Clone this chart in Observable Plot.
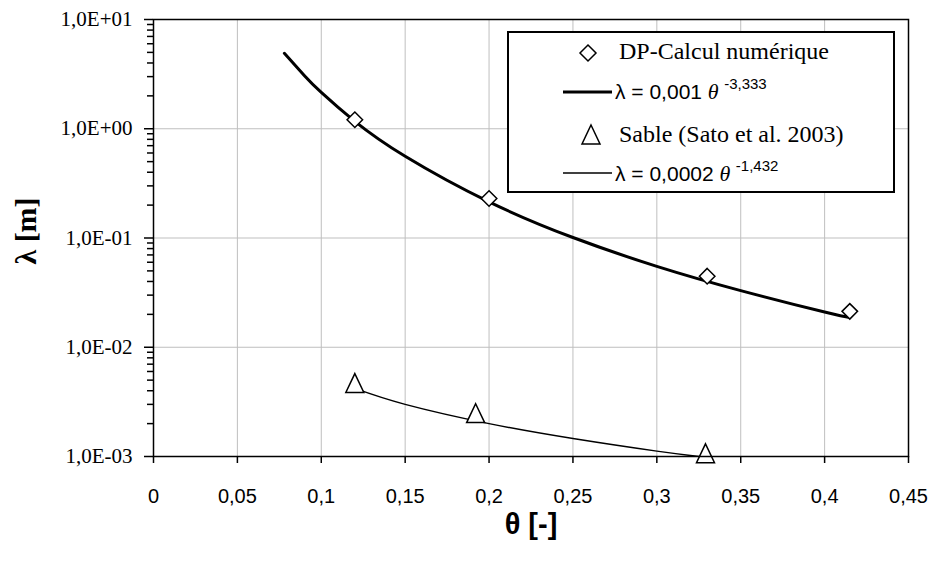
<!DOCTYPE html>
<html>
<head>
<meta charset="utf-8">
<script src="https://cdn.jsdelivr.net/npm/d3@7"></script>
<script src="https://cdn.jsdelivr.net/npm/@observablehq/plot@0.6"></script>
<style>
  html, body { margin: 0; padding: 0; background: #fff; }
  #wrap { position: relative; width: 928px; height: 561px; }
  #legend { position: absolute; left: 0; top: 0; pointer-events: none; }
</style>
</head>
<body>
<div id="wrap"></div>
<script>
// ---- Data ----
const thetaDP = [0.12, 0.2, 0.33, 0.415];
const lambdaDP = [1.21, 0.23, 0.0447, 0.0213];
const thetaSable = [0.12, 0.192, 0.329];
const lambdaSable = [0.00466, 0.00247, 0.00106];
// fitted power-law curves
const fitDPTheta = [0.078, 0.09, 0.1, 0.12, 0.15, 0.2, 0.25, 0.3, 0.35, 0.4, 0.415];
const fitDPLambda = [4.9, 3.06, 2.15, 1.17, 0.56, 0.214, 0.101, 0.055, 0.033, 0.021, 0.0187];
const fitSableTheta = [0.12, 0.15, 0.2, 0.25, 0.3, 0.33];
const fitSableLambda = [0.0042, 0.003, 0.002, 0.00146, 0.00112, 0.00098];
// axis ticks
const xTicks = [0, 0.05, 0.1, 0.15, 0.2, 0.25, 0.3, 0.35, 0.4, 0.45];
const yTicks = [0.001, 0.01, 0.1, 1, 10];
const yMinor = [2,3,4,5,6,7,8,9].flatMap(m => [0.001, 0.01, 0.1, 1].map(d => +(m * d).toPrecision(3)));
// legend texts
const legendLabels = ["DP-Calcul numérique", "Sable (Sato et al. 2003)"];
const fitLabels = [
  {pre: "λ = 0,001 ", exp: "-3,333"},
  {pre: "λ = 0,0002 ", exp: "-1,432"}
];

const dp = thetaDP.map((t, i) => ({theta: t, lambda: lambdaDP[i]}));
const sable = thetaSable.map((t, i) => ({theta: t, lambda: lambdaSable[i]}));
const fitDP = fitDPTheta.map((t, i) => ({theta: t, lambda: fitDPLambda[i]}));
const fitSable = fitSableTheta.map((t, i) => ({theta: t, lambda: fitSableLambda[i]}));

// tall triangle symbol (Excel-like marker)
const tri = {
  draw(ctx, size) {
    const r = Math.sqrt(size / Math.PI);
    ctx.moveTo(0, -1.1 * r);
    ctx.lineTo(r, 1.0 * r);
    ctx.lineTo(-r, 1.0 * r);
    ctx.closePath();
  }
};

const fmtY = d => {
  const e = Math.round(Math.log10(d));
  return "1,0E" + (e >= 0 ? "+" : "-") + String(Math.abs(e)).padStart(2, "0");
};
const fmtX = d => String(+d.toFixed(2)).replace(".", ",");

const chart = Plot.plot({
  width: 928,
  height: 561,
  marginLeft: 153,
  marginRight: 20,
  marginTop: 19,
  marginBottom: 105,
  style: {fontFamily: "'Liberation Serif', serif", background: "#fff", color: "#000"},
  x: {domain: [0, 0.45]},
  y: {type: "log", domain: [0.001, 10]},
  marks: [
    Plot.gridX(xTicks, {stroke: "#bfbfbf", strokeOpacity: 1, strokeWidth: 1}),
    Plot.gridY(yTicks, {stroke: "#bfbfbf", strokeOpacity: 1, strokeWidth: 1}),
    Plot.line(fitDP, {x: "theta", y: "lambda", curve: "natural", stroke: "#000", strokeWidth: 3}),
    Plot.line(fitSable, {x: "theta", y: "lambda", curve: "natural", stroke: "#000", strokeWidth: 1.5, clip: true}),
    Plot.dot(dp, {x: "theta", y: "lambda", symbol: "diamond2", r: 7, fill: "#fff", stroke: "#000", strokeWidth: 1.5}),
    Plot.dot(sable, {x: "theta", y: "lambda", symbol: tri, r: 9, fill: "#fff", stroke: "#000", strokeWidth: 1.5}),
    Plot.frame({stroke: "#000", strokeWidth: 1.5}),
    Plot.axisX(xTicks, {tickSize: 7, tickPadding: 25, tickFormat: fmtX, label: null,
      fontFamily: "'Liberation Sans', sans-serif", fontSize: 20, strokeWidth: 1.5}),
    Plot.axisY(yMinor, {tickSize: 6, tickFormat: () => "", label: null, stroke: "#000", strokeWidth: 1.5}),
    Plot.axisY(yTicks, {tickSize: 9, tickPadding: 12, tickFormat: fmtY, label: null,
      fontFamily: "'Liberation Serif', serif", fontSize: 21, stroke: "#000", strokeWidth: 1.5}),
    Plot.text(["θ [-]"], {frameAnchor: "bottom", dy: 68, lineAnchor: "middle", fontSize: 29, fontWeight: "bold",
      fontFamily: "'Liberation Sans', sans-serif", fill: "#000"}),
    Plot.text(["λ [m]"], {frameAnchor: "left", textAnchor: "middle", lineAnchor: "middle", dx: -127, dy: -7, rotate: -90,
      fontSize: 30, fontWeight: "bold", fontFamily: "'Liberation Serif', serif", fill: "#000"})
  ]
});

const wrap = document.getElementById("wrap");
wrap.appendChild(chart);

// ---- Legend (overlay) ----
const NS = "http://www.w3.org/2000/svg";
const lg = document.createElementNS(NS, "svg");
lg.setAttribute("id", "legend");
lg.setAttribute("width", 928);
lg.setAttribute("height", 561);
const box = {x: 508, y: 32, w: 386, h: 160};
const rowY = [53, 92, 135, 173];
function el(tag, attrs, parent) {
  const e = document.createElementNS(NS, tag);
  for (const k in attrs) e.setAttribute(k, attrs[k]);
  (parent || lg).appendChild(e);
  return e;
}
el("rect", {x: box.x, y: box.y, width: box.w, height: box.h, fill: "#fff", stroke: "#000", "stroke-width": 2});
// diamond marker
const dr = 8;
el("path", {d: `M588,${rowY[0]-dr}L${588+dr},${rowY[0]}L588,${rowY[0]+dr}L${588-dr},${rowY[0]}Z`,
  fill: "#fff", stroke: "#000", "stroke-width": 1.5});
// triangle marker
el("path", {d: `M591,${rowY[2]-10}L600,${rowY[2]+9}L582,${rowY[2]+9}Z`,
  fill: "#fff", stroke: "#000", "stroke-width": 1.5});
// lines
el("line", {x1: 563, x2: 612, y1: rowY[1], y2: rowY[1], stroke: "#000", "stroke-width": 3});
el("line", {x1: 563, x2: 612, y1: rowY[3], y2: rowY[3], stroke: "#000", "stroke-width": 1.5});
// series texts
[[legendLabels[0], rowY[0] + 6], [legendLabels[1], rowY[2] + 7]].forEach(([s, y]) => {
  const t = el("text", {x: 619, y: y, "font-family": "'Liberation Serif', serif", "font-size": 24, fill: "#000"});
  t.textContent = s;
});
// fit equation texts
[[fitLabels[0], rowY[1] + 7], [fitLabels[1], rowY[3] + 8]].forEach(([f, y]) => {
  const t = el("text", {x: 615, y: y, "font-family": "'Liberation Sans', sans-serif", "font-size": 21, fill: "#000"});
  const a = el("tspan", {}, t); a.textContent = f.pre;
  const b = el("tspan", {"font-family": "'Liberation Serif', serif", "font-style": "italic", "font-size": 22}, t);
  b.textContent = "θ ";
  const c = el("tspan", {dy: -10, "font-size": 15}, t); c.textContent = f.exp;
});
wrap.appendChild(lg);
</script>
</body>
</html>
